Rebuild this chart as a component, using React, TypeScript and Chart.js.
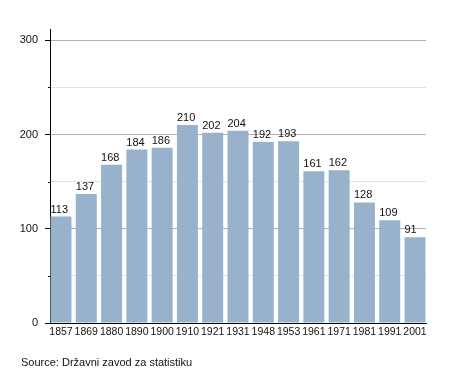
import React, { useEffect, useRef } from 'react';
import { Chart, registerables } from 'chart.js';

Chart.register(...registerables);

const years = ['1857', '1869', '1880', '1890', '1900', '1910', '1921', '1931', '1948', '1953', '1961', '1971', '1981', '1991', '2001'];
const population = [113, 137, 168, 184, 186, 210, 202, 204, 192, 193, 161, 162, 128, 109, 91];
const yTicks = [0, 50, 100, 150, 200, 250, 300];
const yLabelled = [0, 100, 200, 300];
const sourceText = 'Source: Državni zavod za statistiku';

const FONT = '"Liberation Sans", Arial, Helvetica, sans-serif';
const BAR_COLOR = '#98b2cc';

const extrasPlugin = {
  id: 'extras',
  afterDatasetsDraw(chart: any) {
    const ctx = chart.ctx;
    const meta = chart.getDatasetMeta(0);
    const yScale = chart.scales.y;
    ctx.save();
    ctx.font = `11px ${FONT}`;
    ctx.fillStyle = '#111';
    ctx.textAlign = 'left';
    ctx.textBaseline = 'alphabetic';
    meta.data.forEach((bar: any, i: number) => {
      const { x, y, width } = bar.getProps(['x', 'y', 'width'], true);
      ctx.fillText(String(population[i]), x - width / 2, y - 4);
    });
    // minor ticks
    ctx.strokeStyle = '#000';
    ctx.lineWidth = 1;
    yTicks.forEach((v) => {
      if (yLabelled.includes(v)) return;
      const py = Math.round(yScale.getPixelForValue(v)) + 0.5;
      ctx.beginPath();
      ctx.moveTo(chart.chartArea.left - 2, py);
      ctx.lineTo(chart.chartArea.left, py);
      ctx.stroke();
    });
    // source
    ctx.fillStyle = '#111';
    ctx.fillText(sourceText, 21, 366);
    ctx.restore();
  },
};

export default function App() {
  const ref = useRef<HTMLCanvasElement | null>(null);

  useEffect(() => {
    if (!ref.current) return;
    const chart = new Chart(ref.current, {
      type: 'bar',
      data: {
        datasets: [
          {
            data: population.map((v, i) => ({ x: i, y: v })),
            backgroundColor: BAR_COLOR,
            borderWidth: 0,
            barPercentage: 0.83,
            categoryPercentage: 1,
          },
        ],
      },
      options: {
        animation: false,
        responsive: false,
        layout: { padding: { left: 0, right: 29, top: 29, bottom: 30 } },
        plugins: { legend: { display: false }, tooltip: { enabled: false } },
        scales: {
          x: {
            type: 'linear',
            min: -0.435,
            max: 14.435,
            offset: false,
            grid: { display: false, drawTicks: false },
            border: { display: true, color: '#000', width: 1 },
            afterBuildTicks: (scale: any) => {
              scale.ticks = years.map((_, i) => ({ value: i }));
            },
            afterFit: (scale: any) => {
              scale.height = 20;
            },
            ticks: {
              autoSkip: false,
              maxRotation: 0,
              minRotation: 0,
              padding: 3,
              color: '#111',
              font: { family: FONT, size: 10.5 },
              callback: (v: any) => years[v] ?? '',
            },
          },
          y: {
            min: 0,
            max: 312,
            grid: {
              color: (c: any) =>
                c.tick && c.tick.value === 0
                  ? 'rgba(0,0,0,0)'
                  : c.tick && c.tick.value % 100 === 0
                  ? '#b0b0b0'
                  : '#e2e2e2',
              tickColor: (c: any) => (c.tick && c.tick.value % 100 === 0 ? '#000' : 'rgba(0,0,0,0)'),
              tickLength: 5,
              drawTicks: true,
            },
            border: { display: true, color: '#000', width: 1 },
            afterBuildTicks: (scale: any) => {
              scale.ticks = yTicks.map((v) => ({ value: v }));
            },
            afterFit: (scale: any) => {
              scale.width = 50;
            },
            ticks: {
              padding: 7,
              color: '#111',
              font: { family: FONT, size: 11 },
              callback: (v: any) => (yLabelled.includes(v) ? String(v) : ''),
            },
          },
        },
      },
      plugins: [extrasPlugin],
    } as any);
    return () => chart.destroy();
  }, []);

  return (
    <div style={{ position: 'absolute', left: 0, top: 0, width: 455, height: 373, background: '#fff' }}>
      <canvas ref={ref} width={455} height={373} style={{ display: 'block' }} />
    </div>
  );
}
